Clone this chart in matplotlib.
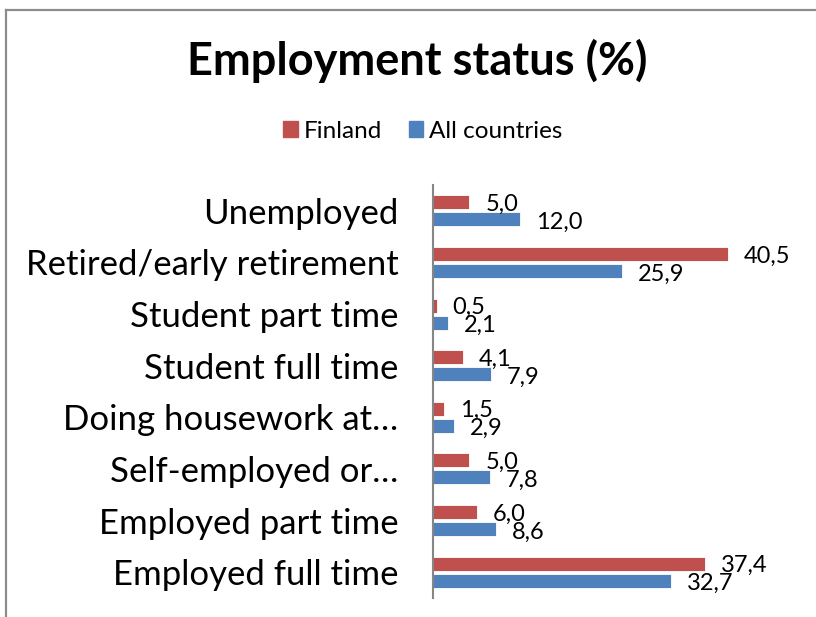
import numpy as np
import matplotlib
matplotlib.use("Agg")
import matplotlib.pyplot as plt
from matplotlib.patches import Patch

plt.rcParams['font.family'] = ['Lato', 'DejaVu Sans']

# employment status shares, top row first
categories = ["Unemployed", "Retired/early retirement", "Student part time",
              "Student full time", "Doing housework at\u2026", "Self-employed or\u2026",
              "Employed part time", "Employed full time"]
finland = [5.0, 40.5, 0.5, 4.1, 1.5, 5.0, 6.0, 37.4]
all_countries = [12.0, 25.9, 2.1, 7.9, 2.9, 7.8, 8.6, 32.7]

red = "#C0504D"
blue = "#4F81BD"

W, H = 816, 617
fig = plt.figure(figsize=(W / 100, H / 100), dpi=100)

# chart frame: left and top edges only
frame = fig.add_axes([0, 0, 1, 1])
frame.set_xlim(0, W)
frame.set_ylim(H, 0)
frame.axis("off")
frame.plot([5.5, 5.5], [H, 9.5], color="#8C8C8C", linewidth=1.6)
frame.plot([5.5, W + 5], [9.5, 9.5], color="#8C8C8C", linewidth=1.6)

ax = fig.add_axes([433 / W, 19 / H, (797 - 433) / W, (598 - 185) / H])

y = np.arange(len(categories))
h = 0.27
off = 0.165
ax.barh(y - off, finland, height=h, color=red, edgecolor="white", linewidth=0.6)
ax.barh(y + off, all_countries, height=h, color=blue, edgecolor="white", linewidth=0.6)

for yi, v in zip(y, finland):
    ax.annotate(f"{v:.1f}".replace(".", ","), (v, yi - off), xytext=(16, -2),
                textcoords="offset pixels", va="center", ha="left", fontsize=17)
for yi, v in zip(y, all_countries):
    ax.annotate(f"{v:.1f}".replace(".", ","), (v, yi + off), xytext=(16, -3),
                textcoords="offset pixels", va="center", ha="left", fontsize=17)

ax.set_xlim(0, 50)
ax.set_ylim(len(categories) - 0.5, -0.5)
ax.set_yticks(y)
ax.set_yticklabels(categories, fontsize=25)
ax.tick_params(axis="y", length=0, pad=25)
ax.set_xticks([])
for s in ["top", "right", "bottom"]:
    ax.spines[s].set_visible(False)
ax.spines["left"].set_color("#868686")
ax.spines["left"].set_linewidth(1.5)
ax.set_facecolor("none")

fig.text(417 / W, 1 - 75 / H, "Employment status (%)", ha="center", va="baseline",
         fontsize=32.5, fontweight="bold")

handles = [Patch(color=red, label="Finland"), Patch(color=blue, label="All countries")]
fig.legend(handles=handles, loc="center", bbox_to_anchor=(423 / W, 1 - 131 / H),
           ncol=2, frameon=False, fontsize=17.5, handlelength=0.6, handleheight=0.6,
           handletextpad=0.25, columnspacing=1.1)

fig.savefig("out.png", dpi=100)
